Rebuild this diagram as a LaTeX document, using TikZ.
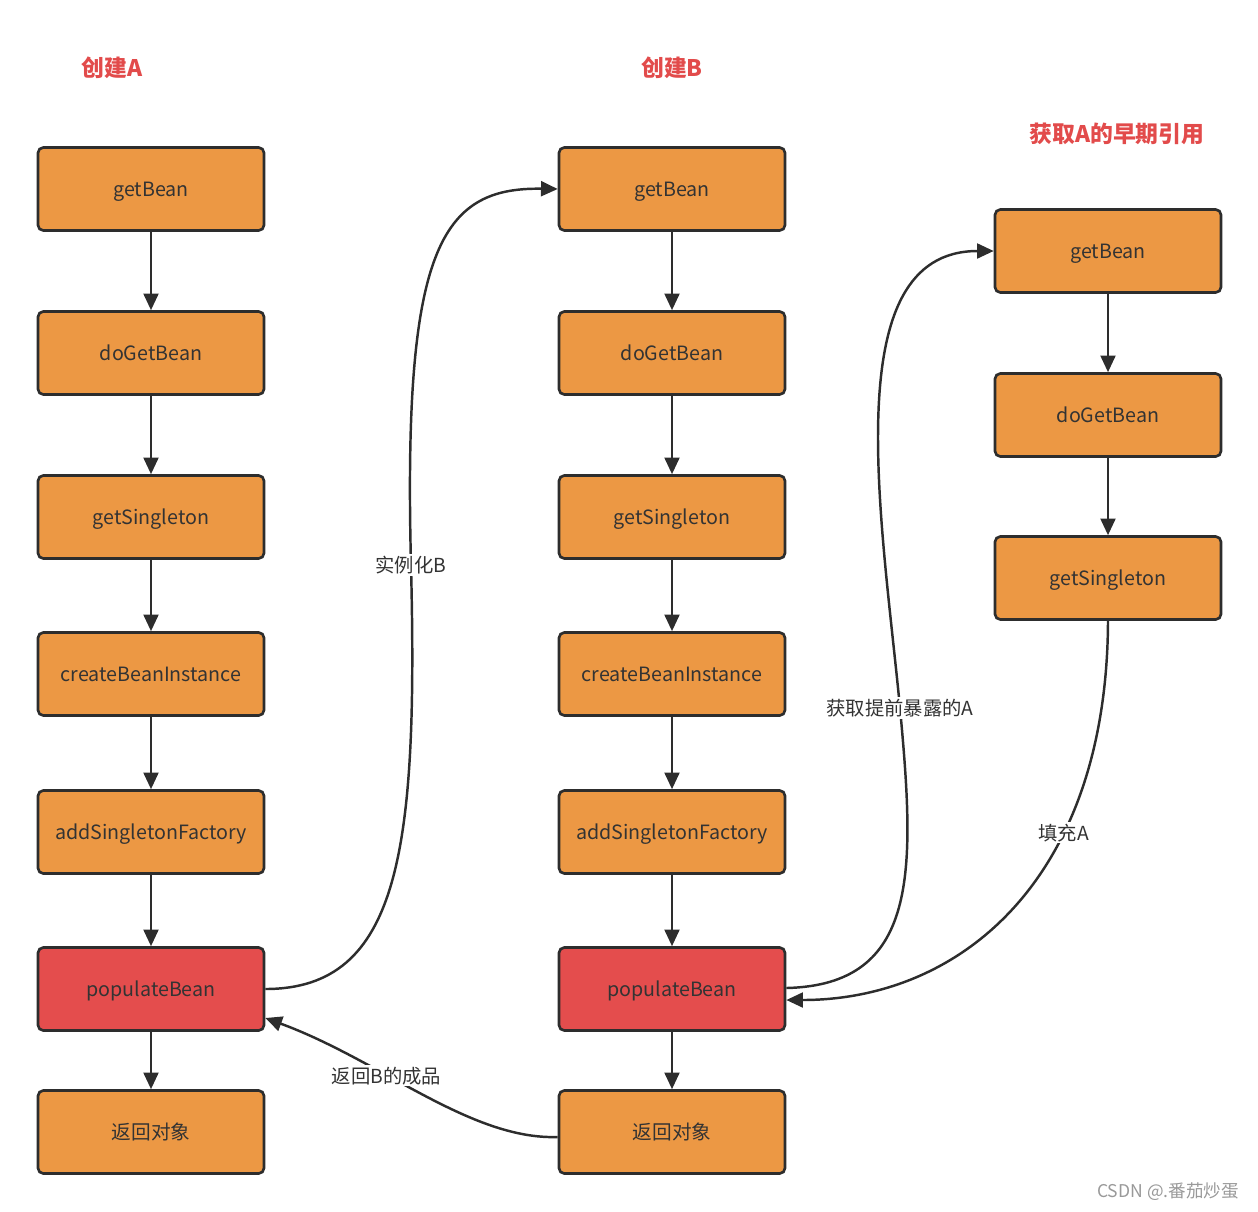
\documentclass[tikz,border=0pt]{standalone}
\usepackage{fontspec}
\setmainfont{Noto Sans CJK SC}
\usetikzlibrary{arrows.meta,calc}
\definecolor{boxorange}{RGB}{236,152,68}
\definecolor{boxred}{RGB}{228,77,77}
\definecolor{headred}{RGB}{226,75,75}
\definecolor{edgegray}{RGB}{45,45,45}
\definecolor{textgray}{RGB}{51,51,51}
\tikzstyle{flowbox} = [rectangle, rounded corners=3pt, draw=edgegray, line width=1.5pt, fill=boxorange, text=textgray, minimum width=4.52cm, minimum height=1.66cm, text height=11pt, text depth=2pt, font=\fontsize{11.2}{13}\selectfont]
\tikzstyle{hotbox} = [flowbox, fill=boxred]
\tikzstyle{flowarr} = [draw=edgegray, line width=1.4pt, -{Triangle[length=9.5pt,width=8.5pt]}]
\tikzstyle{headline} = [text=headred, font=\fontsize{13}{15}\selectfont\bfseries]
\tikzstyle{edgelabel} = [fill=white, text=textgray, inner sep=1pt, font=\fontsize{11}{13}\selectfont]

\begin{document}
\begin{tikzpicture}[x=0.02cm, y=-0.02cm]
  \useasboundingbox (0,0) rectangle (1258,1211);
  \node[headline] (headA) at (112, 68) {创建A};
  \node[headline] (headB) at (672, 68) {创建B};
  \node[headline] (headC) at (1117, 134) {获取A的早期引用};
  \foreach \c/\x in {a/151, b/672} {
    \foreach \i/\y/\s/\t in {0/189/flowbox/getBean, 1/353/flowbox/doGetBean, 2/517/flowbox/getSingleton,
        3/674/flowbox/createBeanInstance, 4/832/flowbox/addSingletonFactory, 5/989/hotbox/populateBean,
        6/1132/flowbox/返回对象} {
      \node[\s] (\c\i) at (\x, \y) {\t};
    }
    \foreach \i/\k in {0/1, 1/2, 2/3, 3/4, 4/5, 5/6} {
      \draw[flowarr] (\c\i) -- (\c\k);
    }
  }
  \foreach \i/\y/\t in {0/251/getBean, 1/415/doGetBean, 2/578/getSingleton} {
    \node[flowbox] (c\i) at (1108, \y) {\t};
  }
  \draw[flowarr] (c0) -- (c1);
  \draw[flowarr] (c1) -- (c2);
  \draw[flowarr] (a5.east) .. controls (400, 989) and (418, 850) .. (411, 565)
    node[edgelabel] (lblB) {实例化B} .. controls (403, 250) and (440, 187) .. (b0.west);
  \draw[flowarr] ($(b5.east)+(0, -1)$) .. controls (920, 985) and (915, 870) .. (900, 708)
    node[edgelabel] (lblEarly) {获取提前暴露的A} .. controls (882, 520) and (835, 251) .. (c0.west);
  \draw[flowarr] (c2.south) .. controls (1107, 880) and (960, 1000) .. ($(b5.east)+(0, 11)$)
    node[edgelabel, pos=0.33] (lblFill) {填充A};
  \draw[flowarr] ($(b6.west)+(0, 5)$) .. controls (470, 1140) and (380, 1060) .. ($(a5.east)+(0, 29)$)
    node[edgelabel, pos=0.62] (lblRet) {返回B的成品};
  \node[text=black!40, anchor=east, font=\fontsize{10}{12}\selectfont] (mark) at (1245, 1192) {CSDN @.番茄炒蛋};
\end{tikzpicture}
\end{document}
